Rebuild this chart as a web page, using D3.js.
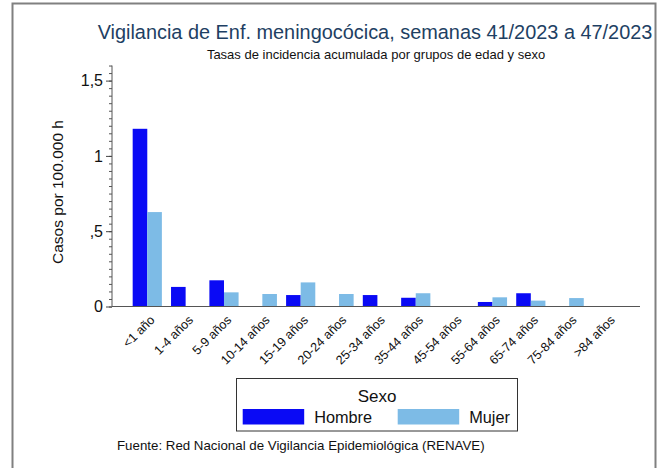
<!DOCTYPE html>
<html>
<head>
<meta charset="utf-8">
<script src="https://cdn.jsdelivr.net/npm/d3@7"></script>
<style>
  body { margin: 0; background: #fff; }
  svg { font-family: "Liberation Sans", Arial, sans-serif; }
</style>
</head>
<body>
<svg id="chart" width="670" height="468"></svg>
<script>
// age groups and rates (cases per 100.000 h)
const ageGroups = ['<1 año', '1-4 años', '5-9 años', '10-14 años', '15-19 años', '20-24 años',
  '25-34 años', '35-44 años', '45-54 años', '55-64 años', '65-74 años', '75-84 años', '>84 años'];
const sexes = ['Hombre', 'Mujer'];
const hombre = [1.18, 0.13, 0.174, 0, 0.076, 0, 0.076, 0.058, 0, 0.03, 0.088, 0, 0];
const mujer = [0.627, 0, 0.094, 0.083, 0.16, 0.083, 0, 0.088, 0, 0.061, 0.039, 0.056, 0];
const yTicks = [0, 0.5, 1, 1.5];
const yTickLabels = ['0', ',5', '1', '1,5'];

const colors = { Hombre: '#0a0af5', Mujer: '#7dbbe6' };

const svg = d3.select('#chart');

// outer frame (only three sides visible)
svg.append('path')
  .attr('d', 'M12.5,468 V3.5 H655.5 V468')
  .attr('fill', 'none')
  .attr('stroke', '#808080')
  .attr('stroke-width', 2);

// titles
svg.append('text')
  .attr('x', 375).attr('y', 39)
  .attr('text-anchor', 'middle')
  .attr('font-size', 19.9)
  .attr('fill', '#1e3f63')
  .text('Vigilancia de Enf. meningocócica, semanas 41/2023 a 47/2023');

svg.append('text')
  .attr('x', 376).attr('y', 59)
  .attr('text-anchor', 'middle')
  .attr('font-size', 13)
  .attr('fill', '#111')
  .text('Tasas de incidencia acumulada por grupos de edad y sexo');

const axisLeft = 112;
const axisRight = 640;
const y0 = 306.5;

const y = d3.scaleLinear()
  .domain([0, 1.5])
  .range([y0, 80.6]);

const x0 = d3.scaleBand()
  .domain(ageGroups)
  .range([128.1, 626.7]);

const barW = 14.6;
const x1 = d3.scaleBand()
  .domain(sexes)
  .range([0, barW * 2]);

// bars
const rows = ageGroups.map((g, i) => ({ group: g, Hombre: hombre[i], Mujer: mujer[i] }));

svg.append('g')
  .selectAll('g')
  .data(rows)
  .enter()
  .append('g')
  .attr('transform', d => 'translate(' + (x0(d.group) + (x0.bandwidth() - barW * 2) / 2) + ',0)')
  .selectAll('rect')
  .data(d => sexes.map(s => ({ sex: s, value: d[s] })).filter(d => d.value > 0))
  .enter()
  .append('rect')
  .attr('x', d => x1(d.sex))
  .attr('y', d => y(d.value))
  .attr('width', x1.bandwidth())
  .attr('height', d => y0 - y(d.value))
  .attr('fill', d => colors[d.sex]);

// y axis with minor ticks
const yAxisG = svg.append('g')
  .attr('transform', 'translate(' + axisLeft + ',0)');

yAxisG.call(d3.axisLeft(y).tickValues(d3.range(0, 1.6001, 0.05)).tickSize(3).tickFormat(''))
  .call(g => g.select('.domain').remove())
  .selectAll('line').attr('stroke', '#555');

yAxisG.append('g')
  .call(d3.axisLeft(y).tickValues(yTicks).tickSize(6).tickPadding(3)
    .tickFormat((d, i) => yTickLabels[i]))
  .call(g => g.select('.domain').remove())
  .call(g => g.selectAll('line').attr('stroke', '#444'))
  .call(g => g.selectAll('text')
    .attr('font-size', 16)
    .attr('font-family', '"Liberation Sans", Arial, sans-serif')
    .attr('fill', '#111'));

yAxisG.append('line')
  .attr('x1', 0).attr('x2', 0)
  .attr('y1', y(1.6)).attr('y2', y0)
  .attr('stroke', '#555');

// x axis
const xAxisG = svg.append('g')
  .attr('transform', 'translate(0,' + y0 + ')');

xAxisG.append('line')
  .attr('x1', axisLeft).attr('x2', axisRight)
  .attr('stroke', '#555');

xAxisG.selectAll('text')
  .data(ageGroups)
  .enter()
  .append('text')
  .attr('transform', d => 'translate(' + (x0(d) + x0.bandwidth() / 2 + 2) + ',8)rotate(-45)')
  .attr('text-anchor', 'end')
  .attr('dy', '0.7em')
  .attr('font-size', 12.6)
  .attr('fill', '#111')
  .text(d => d);

// y axis title
svg.append('text')
  .attr('transform', 'translate(63,' + 192 + ')rotate(-90)')
  .attr('text-anchor', 'middle')
  .attr('font-size', 15.5)
  .attr('fill', '#111')
  .text('Casos por 100.000 h');

// legend
const legend = svg.append('g');
legend.append('rect')
  .attr('x', 236.5).attr('y', 378.5)
  .attr('width', 281).attr('height', 52.5)
  .attr('fill', '#fff')
  .attr('stroke', '#333');

legend.append('text')
  .attr('x', 377).attr('y', 402)
  .attr('text-anchor', 'middle')
  .attr('font-size', 17)
  .attr('fill', '#111')
  .text('Sexo');

const legendX = { Hombre: 242.7, Mujer: 397.7 };
sexes.forEach(s => {
  legend.append('rect')
    .attr('x', legendX[s]).attr('y', 409)
    .attr('width', 61.5).attr('height', 15.5)
    .attr('fill', colors[s]);
  legend.append('text')
    .attr('x', legendX[s] + 71.5).attr('y', 423)
    .attr('font-size', 16.3)
    .attr('fill', '#111')
    .text(s);
});

// source note
svg.append('text')
  .attr('x', 117).attr('y', 450)
  .attr('font-size', 13.3)
  .attr('fill', '#111')
  .text('Fuente: Red Nacional de Vigilancia Epidemiológica (RENAVE)');
</script>
</body>
</html>
